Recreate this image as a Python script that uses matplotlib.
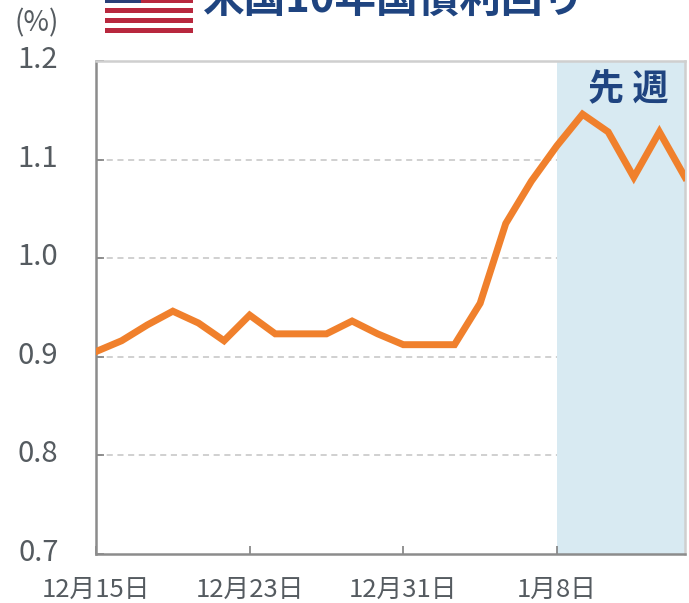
import matplotlib.pyplot as plt
from matplotlib.patches import Rectangle
from matplotlib.transforms import ScaledTranslation

plt.rcParams['font.family'] = ['Noto Sans CJK JP', 'DejaVu Sans']

title = "米国10年国債利回り"
week_label = "先 週"
unit_label = "(%)"

# business days, one point per day
yields = [0.905, 0.916, 0.932, 0.946, 0.934, 0.916, 0.942, 0.923, 0.923, 0.923, 0.936, 0.923,
          0.912, 0.912, 0.912, 0.954, 1.035, 1.078, 1.114, 1.146, 1.128, 1.082, 1.128, 1.082]
tick_pos = [0, 6, 12, 18]
tick_labels = ["12月15日", "12月23日", "12月31日", "1月8日"]
y_ticks = [0.7, 0.8, 0.9, 1.0, 1.1, 1.2]
shade_start = 18

W, H = 689, 603
fig = plt.figure(figsize=(W / 100, H / 100), dpi=100)
ax = fig.add_axes([96 / W, 1 - 553.5 / H, 589 / W, 492.5 / H])

ax.axvspan(shade_start, len(yields) - 1, color="#d8eaf2", lw=0, zorder=1)
for y in y_ticks[1:-1]:
    ax.axhline(y, color="#c4c4c4", lw=1.1, linestyle=(0, (4, 3)), zorder=0)
ax.plot(range(len(yields)), yields, color="#f0802c", lw=5, solid_joinstyle="miter", zorder=3)

ax.set_xlim(0, len(yields) - 1)
ax.set_ylim(0.7, 1.2)
ax.set_xticks(tick_pos)
ax.set_xticklabels(tick_labels, fontsize=18.5, color="#555b60")
ax.set_yticks(y_ticks)
ax.set_yticklabels([f"{v:.1f}" for v in y_ticks], fontsize=21, color="#555b60")
ax.tick_params(axis="x", direction="in", length=6, width=1.2, color="#808080", pad=17)
ax.tick_params(axis="y", direction="in", length=6, width=1.2, color="#808080", pad=27)

# y labels sit a little above their gridlines in the original
up = ScaledTranslation(0, 3 / 72, fig.dpi_scale_trans)
for lab in ax.get_yticklabels():
    lab.set_transform(lab.get_transform() + up)

for side in ["left", "bottom"]:
    ax.spines[side].set_color("#8c8c8c")
    ax.spines[side].set_linewidth(1.8)
for side in ["top", "right"]:
    ax.spines[side].set_color("#cfcfcf")
    ax.spines[side].set_linewidth(1.8)

ax.text(0.903, 0.941, week_label, transform=ax.transAxes, ha="center", va="center",
        fontsize=26, fontweight="bold", color="#1f4480", zorder=4)
fig.text(37 / W, 1 - 23 / H, unit_label, ha="center", va="center", fontsize=20, color="#555b60")
fig.text(203 / W, 1 - 13 / H, title, ha="left", va="baseline", fontsize=30,
         fontweight="bold", color="#1f4480")

# flag, cut off by the top edge like the headline
px = fig.add_axes([0, 0, 1, 1], facecolor="none")
px.set_xlim(0, W)
px.set_ylim(H, 0)
px.axis("off")
px.add_patch(Rectangle((105, 0), 88, 33, facecolor="white", edgecolor="none"))
for top in [-2, 8, 18, 28]:
    px.add_patch(Rectangle((105, top), 88, 5, facecolor="#b8283e", edgecolor="none"))
px.add_patch(Rectangle((105, 0), 36, 3, facecolor="#2a3f78", edgecolor="none"))

fig.savefig("out.png", dpi=100)
